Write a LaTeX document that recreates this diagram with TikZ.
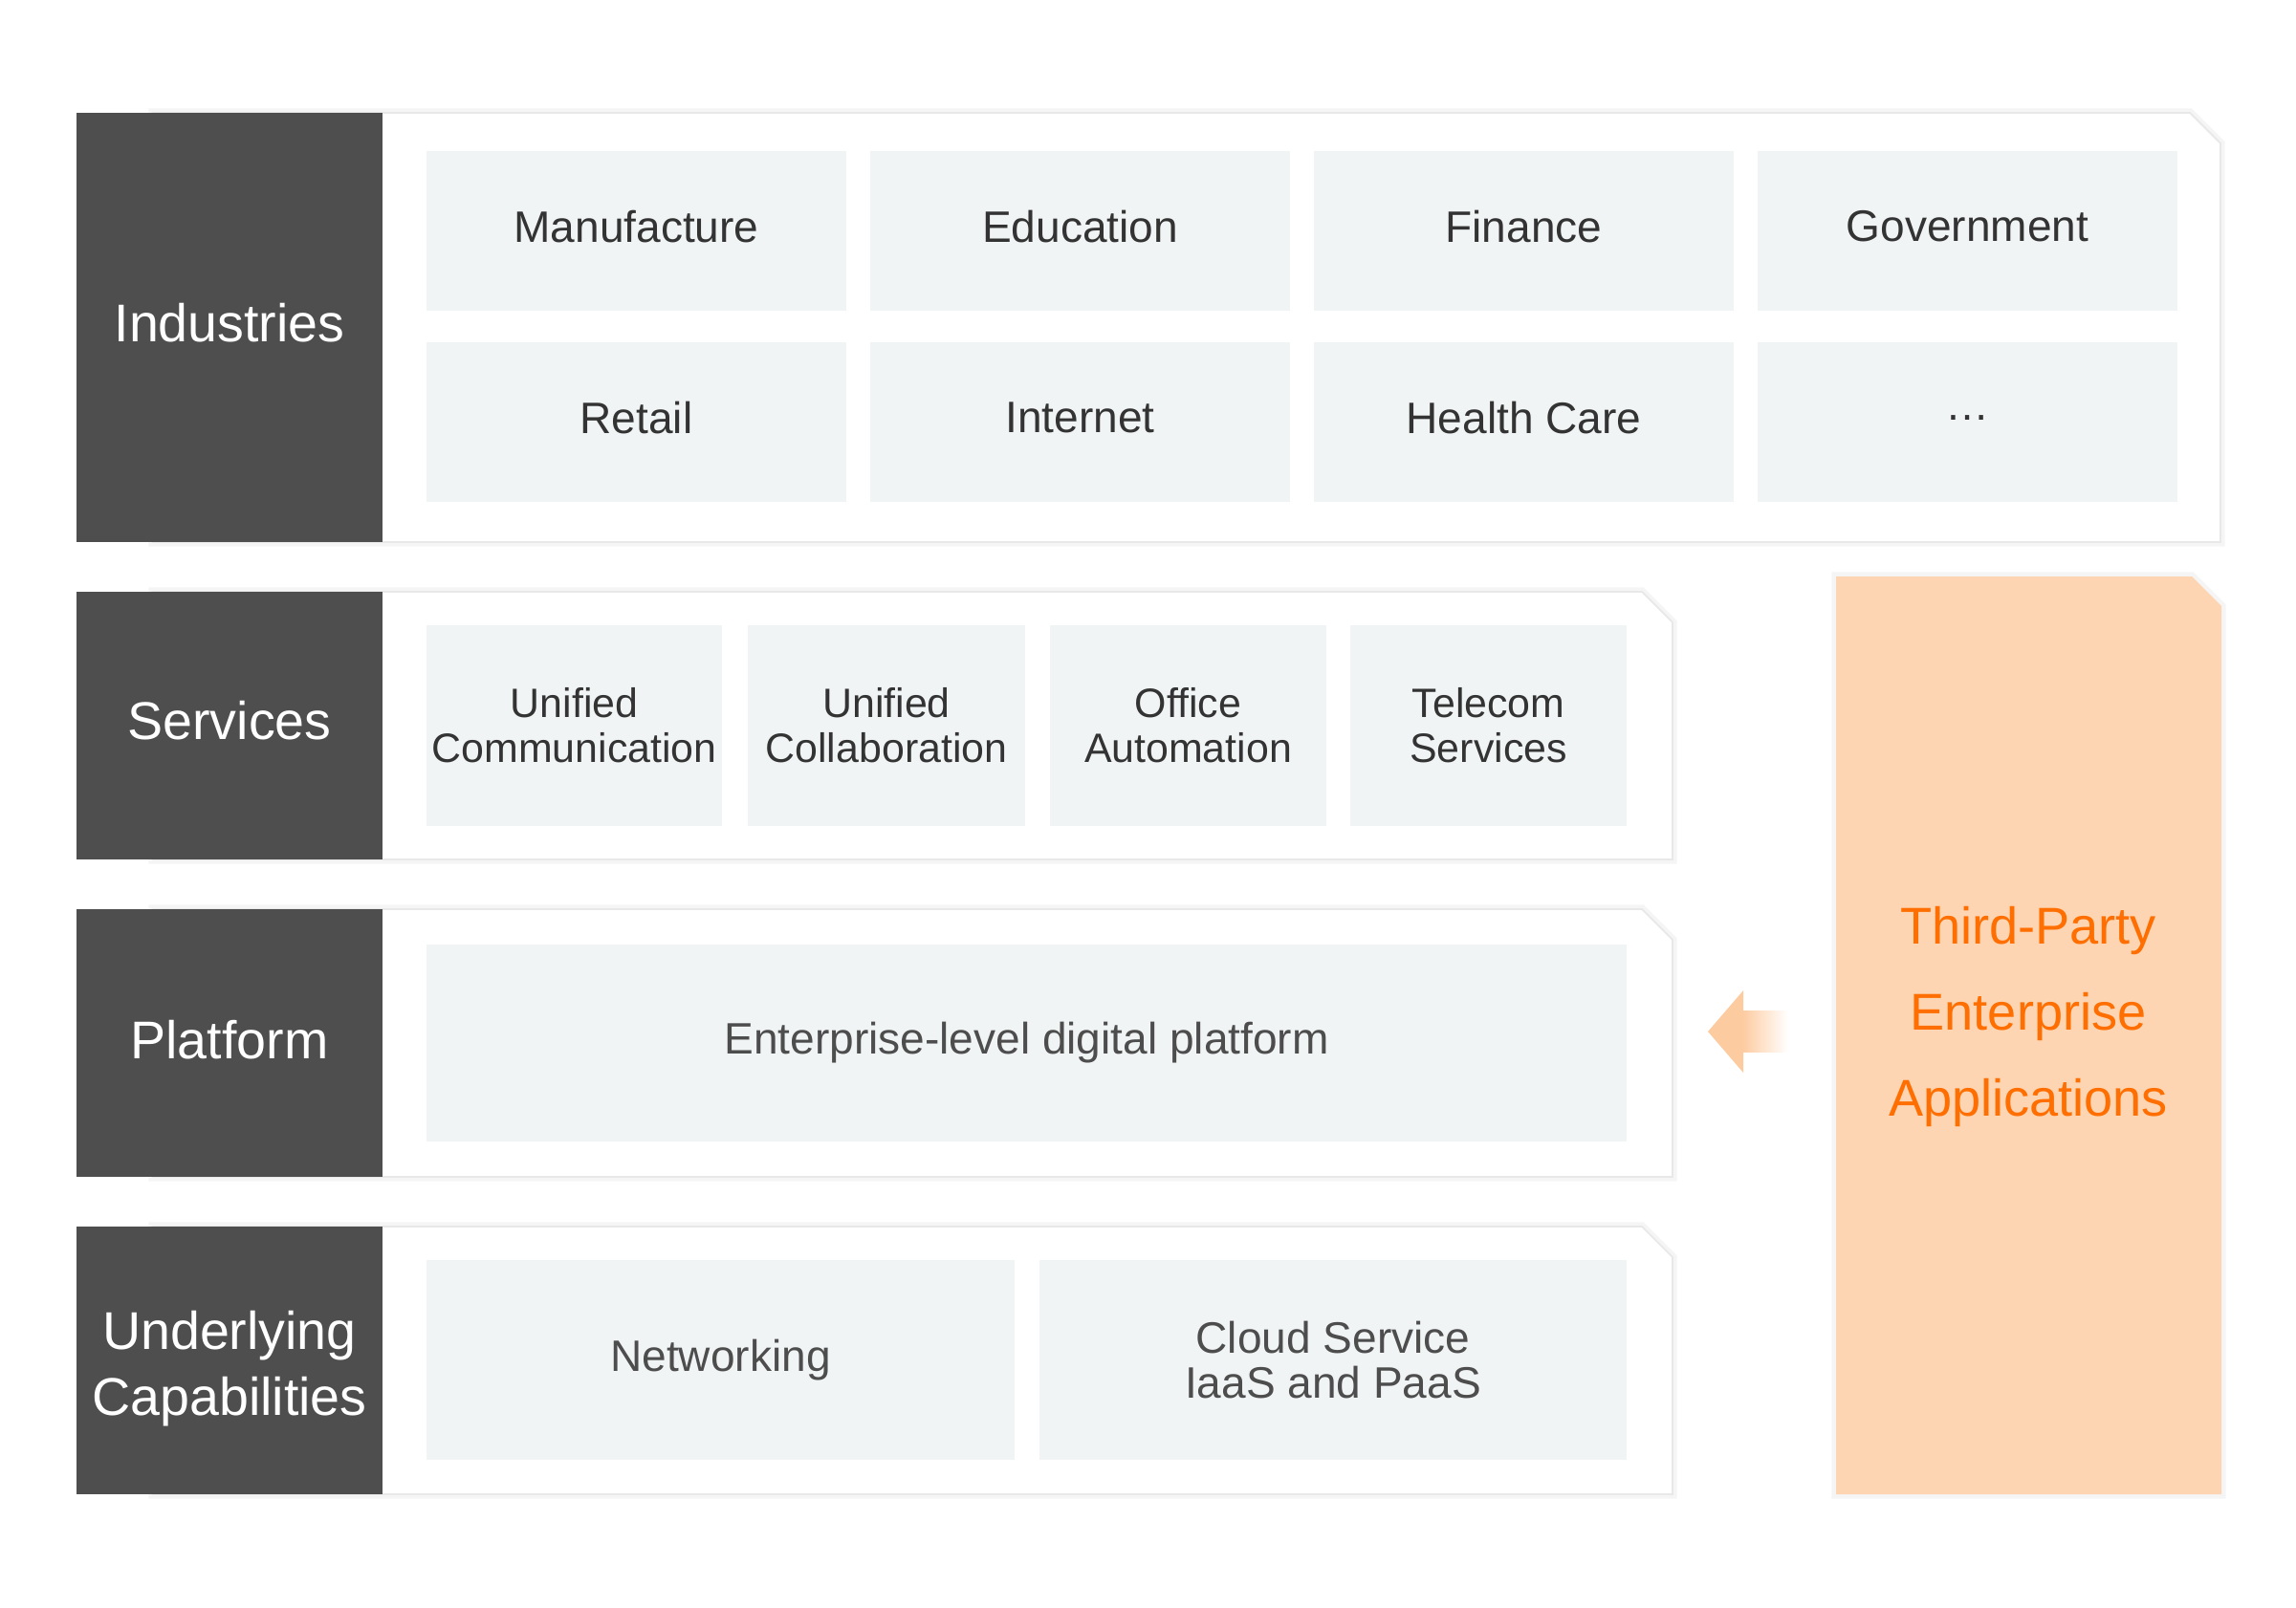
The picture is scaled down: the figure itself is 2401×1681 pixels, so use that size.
\documentclass[tikz,border=0pt]{standalone}
\usepackage{fontspec}
\setmainfont{Liberation Sans}
\definecolor{labelgray}{HTML}{4E4E4E}
\definecolor{cellgray}{HTML}{F1F4F5}
\definecolor{celltext}{HTML}{333333}
\definecolor{softtext}{HTML}{4D4D4D}
\definecolor{orangefill}{HTML}{FDD5B2}
\definecolor{orangetext}{HTML}{FF6E00}
\definecolor{arrowfill}{HTML}{FDCBA0}
\tikzset{
  panelshadow/.style={draw=black!4, line width=2.6pt, line join=miter},
  panel/.style={fill=white, draw=black!9, line width=0.5pt},
  sidetext/.style={text=white, align=center, font=\fontsize{15.8}{19.6}\selectfont},
  cell/.style={fill=cellgray, inner sep=0pt, align=center, text=celltext,
    font=\fontsize{13.1}{13.4}\selectfont},
  indcell/.style={cell, minimum width=4.39cm, minimum height=1.67cm, text depth=2.8pt},
  svccell/.style={cell, minimum height=2.1cm, font=\fontsize{12.2}{13.4}\selectfont},
  basecell/.style={cell, text=softtext, minimum height=2.07cm},
}
\begin{document}
\begin{tikzpicture}[x=0.01cm, y=-0.01cm]
  \useasboundingbox (0,0) rectangle (2401,1681);
  % layer panels with cut corner and dark label column
  \foreach \ya/\yb/\xr in {118/567/2322, 619/899/1749, 951/1231/1749, 1283/1563/1749} {
    \draw[panelshadow] (160,\ya) -- (\xr-32,\ya) -- (\xr,\ya+32) -- (\xr,\yb) -- (160,\yb) -- cycle;
    \draw[panel] (160,\ya) -- (\xr-32,\ya) -- (\xr,\ya+32) -- (\xr,\yb) -- (160,\yb) -- cycle;
    \fill[labelgray] (80,\ya) rectangle (400,\yb);
  }
  \node[sidetext] (industries) at (240,338) {Industries};
  \node[sidetext] (services) at (240,754) {Services};
  \node[sidetext] (platform) at (240,1088) {Platform};
  \node[sidetext] (underlying) at (240,1432) {Underlying\\Capabilities};

  % industries
  \node[indcell] (manufacture) at (665.5,241.5) {Manufacture};
  \node[indcell] (education) at (1129.5,241.5) {Education};
  \node[indcell] (finance) at (1593.5,241.5) {Finance};
  \node[indcell] (government) at (2057.5,241.5) {Government};
  \node[indcell] (retail) at (665.5,441.5) {Retail};
  \node[indcell] (internet) at (1129.5,441.5) {Internet};
  \node[indcell] (healthcare) at (1593.5,441.5) {Health Care};
  \node[indcell] (more) at (2057.5,441.5) {…};

  % services
  \node[svccell, minimum width=3.09cm] (ucomm) at (600.5,759) {Unified\\Communication};
  \node[svccell, minimum width=2.9cm] (ucollab) at (927,759) {Unified\\Collaboration};
  \node[svccell, minimum width=2.89cm] (office) at (1242.5,759) {Office\\Automation};
  \node[svccell, minimum width=2.89cm] (telecom) at (1556.5,759) {Telecom\\Services};

  % platform
  \node[basecell, minimum width=12.55cm, minimum height=2.06cm] (digital) at (1073.5,1091) {Enterprise-level digital platform};

  % underlying capabilities
  \node[basecell, minimum width=6.15cm, minimum height=2.09cm] (networking) at (753.5,1422.5) {Networking};
  \node[basecell, minimum width=6.14cm, minimum height=2.09cm] (cloud) at (1394,1422.5) {Cloud Service\\IaaS and PaaS};

  % third-party applications
  \draw[panelshadow] (1920,603) -- (2292,603) -- (2323,634) -- (2323,1563) -- (1920,1563) -- cycle;
  \fill[orangefill] (1920,603) -- (2292,603) -- (2323,634) -- (2323,1563) -- (1920,1563) -- cycle;
  \node[text=orangetext, align=center, font=\fontsize{15.4}{25.6}\selectfont] (apps) at (2121,1063)
    {Third-Party\\Enterprise\\Applications};

  % arrow
  \fill[arrowfill] (1786,1079) -- (1823,1036) -- (1823,1122) -- cycle;
  \shade[left color=arrowfill, right color=white] (1822,1057) rectangle (1870,1100);
\end{tikzpicture}
\end{document}
